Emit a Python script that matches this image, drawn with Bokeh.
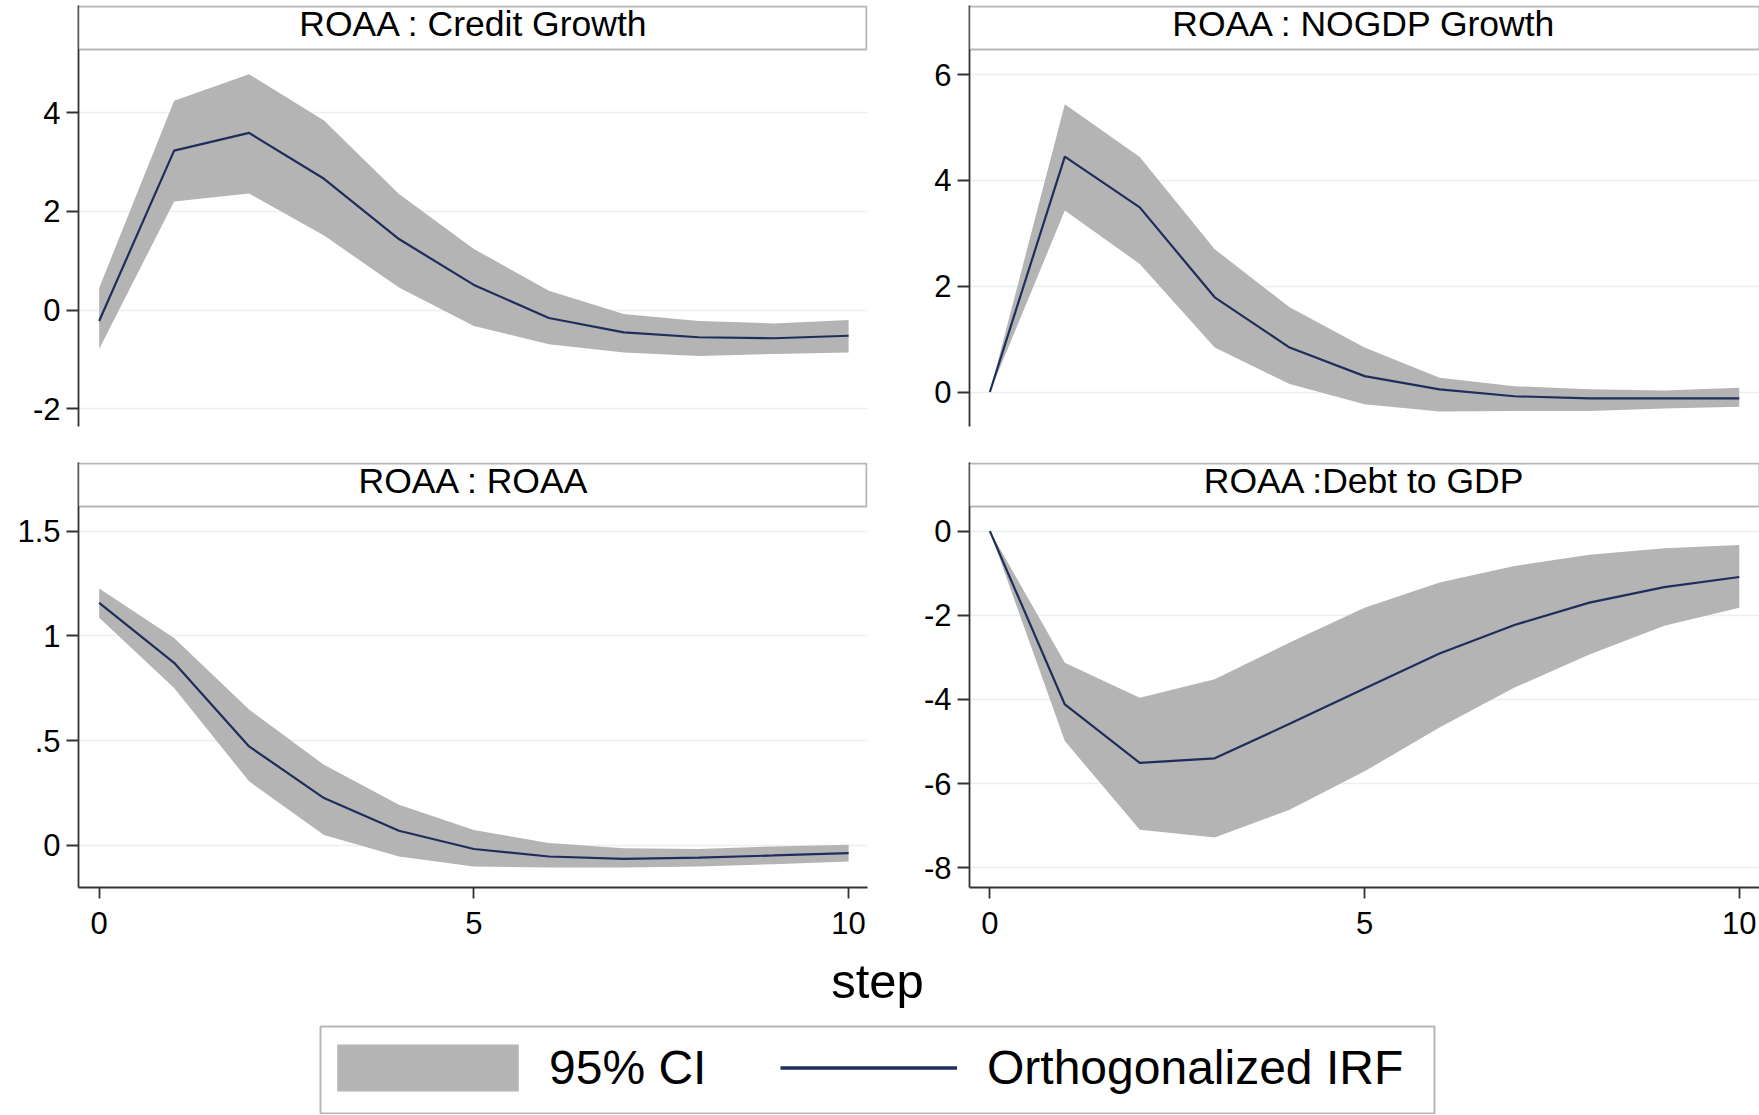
from bokeh.plotting import figure
from bokeh.models import (Range1d, FixedTicker, BoxAnnotation, Label, Legend, LegendItem)
from bokeh.layouts import column, row
from bokeh.embed import file_html
from bokeh.resources import INLINE

# ---------------- data ----------------
steps = [0, 1, 2, 3, 4, 5, 6, 7, 8, 9, 10]

titles = ["ROAA : Credit Growth", "ROAA : NOGDP Growth", "ROAA : ROAA", "ROAA :Debt to GDP"]

cg_irf = [-0.22, 3.23, 3.59, 2.66, 1.44, 0.51, -0.16, -0.45, -0.55, -0.57, -0.52]
cg_up = [0.45, 4.24, 4.78, 3.84, 2.35, 1.24, 0.39, -0.08, -0.22, -0.27, -0.20]
cg_lo = [-0.79, 2.20, 2.36, 1.51, 0.46, -0.32, -0.69, -0.86, -0.93, -0.89, -0.86]

ng_irf = [0.0, 4.45, 3.49, 1.79, 0.84, 0.30, 0.05, -0.08, -0.12, -0.12, -0.12]
ng_up = [0.0, 5.44, 4.44, 2.70, 1.60, 0.84, 0.27, 0.11, 0.05, 0.03, 0.08]
ng_lo = [0.0, 3.43, 2.42, 0.84, 0.15, -0.23, -0.37, -0.36, -0.36, -0.31, -0.28]

ro_irf = [1.158, 0.871, 0.472, 0.225, 0.069, -0.018, -0.054, -0.065, -0.059, -0.049, -0.038]
ro_up = [1.226, 0.990, 0.648, 0.384, 0.193, 0.073, 0.010, -0.014, -0.018, -0.006, 0.002]
ro_lo = [1.086, 0.751, 0.305, 0.049, -0.054, -0.102, -0.107, -0.107, -0.102, -0.091, -0.078]

dg_irf = [0.0, -4.12, -5.51, -5.40, -4.58, -3.74, -2.91, -2.23, -1.70, -1.33, -1.09]
dg_up = [0.0, -3.13, -3.96, -3.52, -2.65, -1.82, -1.22, -0.83, -0.56, -0.41, -0.33]
dg_lo = [0.0, -4.99, -7.10, -7.28, -6.62, -5.71, -4.67, -3.72, -2.93, -2.25, -1.82]

cg_ticks = [-2, 0, 2, 4]
cg_labels = ["-2", "0", "2", "4"]
ng_ticks = [0, 2, 4, 6]
ng_labels = ["0", "2", "4", "6"]
ro_ticks = [0, 0.5, 1, 1.5]
ro_labels = ["0", ".5", "1", "1.5"]
dg_ticks = [-8, -6, -4, -2, 0]
dg_labels = ["-8", "-6", "-4", "-2", "0"]
x_ticks = [0, 5, 10]
x_labels = ["0", "5", "10"]

legend_labels = ["95% CI", "Orthogonalized IRF"]
x_title = "step"

# ---------------- style ----------------
FONT = "Liberation Sans"
BAND = "#b4b4b4"
LINE = "#1f2d5c"
GRID = "#e8f0f2"
AXIS = "#333333"
TICK_FS = "31px"
HEAD_FS = "35.5px"
HEADER_PX = 44

TOP_FRAME_H = 421
BOT_FRAME_H = 425


def panel(title, irf, up, lo, ticks, labels, y_range, x_range, frame_w, frame_h,
          left, right, top, bottom, show_x):
    p = figure(width=left + frame_w + right, height=top + frame_h + bottom,
               x_range=Range1d(*x_range), y_range=Range1d(*y_range),
               output_backend="svg", toolbar_location=None, title=None,
               min_border_left=left, min_border_right=right,
               min_border_top=top, min_border_bottom=bottom)
    p.outline_line_color = None
    p.xgrid.visible = False
    p.ygrid.ticker = FixedTicker(ticks=ticks)
    p.ygrid.grid_line_color = GRID
    p.ygrid.grid_line_width = 1.5
    p.background_fill_color = "white"
    p.border_fill_color = "white"

    p.varea(x=steps, y1=lo, y2=up, fill_color=BAND, fill_alpha=1.0)
    p.line(x=steps, y=irf, line_color=LINE, line_width=2.2)

    ya = p.yaxis[0]
    ya.ticker = FixedTicker(ticks=ticks)
    ya.major_label_overrides = {t: l for t, l in zip(ticks, labels)}
    ya.major_label_text_font = FONT
    ya.major_label_text_font_size = TICK_FS
    ya.major_label_text_color = "black"
    ya.major_label_orientation = "horizontal"
    ya.major_tick_out = 12
    ya.major_tick_in = 0
    ya.minor_tick_out = 0
    ya.minor_tick_in = 0
    ya.major_label_standoff = 6
    ya.axis_line_color = AXIS
    ya.axis_line_width = 1.8
    ya.major_tick_line_color = AXIS
    ya.major_tick_line_width = 1.8

    xa = p.xaxis[0]
    if show_x:
        xa.ticker = FixedTicker(ticks=x_ticks)
        xa.major_label_overrides = {t: l for t, l in zip(x_ticks, x_labels)}
        xa.major_label_text_font = FONT
        xa.major_label_text_font_size = TICK_FS
        xa.major_label_text_color = "black"
        xa.major_tick_out = 11
        xa.major_tick_in = 0
        xa.minor_tick_out = 0
        xa.minor_tick_in = 0
        xa.major_label_standoff = 13
        xa.axis_line_color = AXIS
        xa.axis_line_width = 1.8
        xa.major_tick_line_color = AXIS
        xa.major_tick_line_width = 1.8
    else:
        xa.visible = False

    # header strip (Stata-style)
    ppu_y = frame_h / (y_range[1] - y_range[0])
    ppu_x = frame_w / (x_range[1] - x_range[0])
    head_top = y_range[1] - 1.0 / ppu_y
    head_bottom = y_range[1] - HEADER_PX / ppu_y
    head_right = x_range[1] - (1.0 / ppu_x if right > 0 else 0.0)
    p.add_layout(BoxAnnotation(bottom=head_bottom, top=head_top,
                               left=x_range[0], right=head_right,
                               fill_color="white", fill_alpha=1.0,
                               line_color="#111111", line_width=2, level="overlay"))
    p.add_layout(Label(x=5, y=(head_bottom + head_top) / 2 + 4.0 / ppu_y, text=title,
                       text_font=FONT, text_font_size=HEAD_FS, text_color="black",
                       text_align="center", text_baseline="middle", level="overlay"))
    return p


XL = (-0.276, 10.252)
XR = (-0.272, 10.27)

p1 = panel(titles[0], cg_irf, cg_up, cg_lo, cg_ticks, cg_labels, (-2.358, 6.171), XL,
           789, TOP_FRAME_H, 78, 20, 5, 36, False)
p2 = panel(titles[1], ng_irf, ng_up, ng_lo, ng_ticks, ng_labels, (-0.652, 7.306), XR,
           790, TOP_FRAME_H, 82, 0, 5, 36, False)
p3 = panel(titles[2], ro_irf, ro_up, ro_lo, ro_ticks, ro_labels, (-0.202, 1.828), XL,
           789, BOT_FRAME_H, 78, 20, 0, 62, True)
p4 = panel(titles[3], dg_irf, dg_up, dg_lo, dg_ticks, dg_labels, (-8.471, 1.631), XR,
           790, BOT_FRAME_H, 82, 0, 0, 62, True)

# ---------------- bottom: x title + legend ----------------
BW, BH = 1759, 165
pb = figure(width=BW, height=BH, x_range=Range1d(0, BW), y_range=Range1d(0, BH),
            output_backend="svg", toolbar_location=None, title=None,
            x_axis_type=None, y_axis_type=None,
            min_border_left=0, min_border_right=0, min_border_top=0, min_border_bottom=0)
pb.outline_line_color = None
pb.xgrid.visible = False
pb.ygrid.visible = False
pb.add_layout(Label(x=877, y=134, text=x_title, text_font=FONT, text_font_size="49px",
                    text_color="black", text_align="center", text_baseline="alphabetic"))

# legend frame
pb.add_layout(BoxAnnotation(left=320, right=1434, bottom=1, top=88,
                            fill_color="white", fill_alpha=1.0,
                            line_color="#111111", line_width=2))

# legend proxies: drawn on a hidden range so that only their legend glyphs show
pb.extra_y_ranges = {"proxy": Range1d(100, 101)}
r_band = pb.varea(x=steps, y1=ro_lo, y2=ro_up, fill_color=BAND, fill_alpha=1.0,
                  y_range_name="proxy")
r_line = pb.line(x=steps, y=ro_irf, line_color=LINE, line_width=3.5, y_range_name="proxy")

common = dict(orientation="horizontal", padding=0, margin=0, glyph_height=59,
              border_line_color=None, background_fill_alpha=0.0,
              label_text_font=FONT, label_text_font_size="48px", label_text_color="black")
leg_a = Legend(items=[LegendItem(label=legend_labels[0], renderers=[r_band])],
               location=(314, 17), glyph_width=227, label_standoff=8, **common)
leg_b = Legend(items=[LegendItem(label=legend_labels[1], renderers=[r_line])],
               location=(780, 17), glyph_width=177, label_standoff=30, **common)
pb.add_layout(leg_a)
pb.add_layout(leg_b)

layout = column(row(p1, p2), row(p3, p4), pb)

with open("out.html", "w") as f:
    f.write(file_html(layout, INLINE))
